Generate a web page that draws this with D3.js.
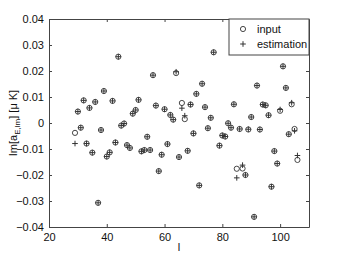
<!DOCTYPE html>
<html>
<head>
<meta charset="utf-8">
<script src="https://cdn.jsdelivr.net/npm/d3@7"></script>
<style>
  body { margin: 0; background: #fff; }
  svg { display: block; font-family: "Liberation Sans", Arial, sans-serif; }
</style>
</head>
<body>
<svg id="chart"></svg>
<script>
// multipole l for each point
const ells = [29, 30, 31, 32, 33, 34, 35, 36, 37, 38, 39, 40, 41, 42, 43, 44, 45, 46, 47, 48,
  49, 50, 51, 52, 53, 54, 55, 56, 57, 58, 59, 60, 61, 62, 63, 64, 65, 66, 67, 68,
  69, 70, 71, 72, 73, 74, 75, 76, 77, 79, 80, 81, 82, 83, 84, 85, 86, 87, 88, 89,
  90, 91, 92, 93, 94, 95, 96, 97, 98, 99, 100, 101, 102, 103, 104, 105, 106]

// Im[a_E,lm] input values (circles)
const inputVals = [-0.0038, 0.0044, -0.0018, 0.0087, -0.0079, 0.0058, -0.0114, 0.0081, -0.0307, -0.0027,
  0.0123, -0.0129, -0.0113, 0.0085, -0.0075, 0.0255, -0.0010, -0.0002, -0.0085, -0.0096,
  0.0036, 0.0050, 0.0089, -0.0109, -0.0104, -0.0053, -0.0104, 0.0184, 0.0067, -0.0185,
  -0.0122, 0.0053, -0.0081, 0.0031, 0.0013, 0.0192, -0.0131, 0.0077, 0.0015, -0.0107,
  0.0071, -0.0040, 0.0112, -0.0240, 0.0151, 0.0061, -0.0020, 0.0020, 0.0272, -0.0087,
  -0.0048, -0.0052, -0.0001, -0.0018, 0.0072, -0.0176, -0.0023, -0.0175, -0.0200, -0.0025,
  0.0023, -0.0361, 0.0144, -0.0025, 0.0071, 0.0068, 0.0030, -0.0245, -0.0108, -0.0156,
  0.0047, 0.0218, 0.0135, -0.0043, 0.0072, -0.0023, -0.0142]

// estimated values (plus signs)
const estimVals = [-0.0079, 0.0044, -0.0018, 0.0087, -0.0079, 0.0058, -0.0114, 0.0081, -0.0307, -0.0027,
  0.0123, -0.0129, -0.0113, 0.0085, -0.0075, 0.0255, -0.0010, -0.0002, -0.0085, -0.0096,
  0.0036, 0.0050, 0.0089, -0.0109, -0.0104, -0.0053, -0.0104, 0.0184, 0.0067, -0.0185,
  -0.0122, 0.0053, -0.0081, 0.0031, 0.0013, 0.0197, -0.0131, 0.0057, 0.0028, -0.0107,
  0.0071, -0.0040, 0.0112, -0.0240, 0.0151, 0.0061, -0.0020, 0.0020, 0.0272, -0.0087,
  -0.0048, -0.0052, -0.0001, -0.0018, 0.0072, -0.0211, -0.0023, -0.0162, -0.0200, -0.0024,
  0.0023, -0.0361, 0.0144, -0.0025, 0.0071, 0.0068, 0.0030, -0.0245, -0.0108, -0.0156,
  0.0052, 0.0218, 0.0135, -0.0043, 0.0078, -0.0030, -0.0125]

const xTicks = [20, 40, 60, 80, 100]
const yTicks = [-0.04, -0.03, -0.02, -0.01, 0, 0.01, 0.02, 0.03, 0.04]
const legendNames = ["input", "estimation"]

// layout
var margin = {top: 19, right: 32, bottom: 29, left: 49}
var width = 341 - margin.left - margin.right
var height = 256 - margin.top - margin.bottom
var axisColor = "#444"
var markColor = "#333"
var textColor = "#111"

var svg = d3.select("#chart")
    .attr("width", 341)
    .attr("height", 256)

var g = svg.append("g")
    .attr("transform", `translate(${margin.left},${margin.top})`)

var x = d3.scaleLinear().domain([20, 110]).range([0, width])
var y = d3.scaleLinear().domain([-0.04, 0.04]).range([height, 0])

var fmtY = d => d === 0 ? "0" : d3.format(".2f")(d).replace("-", "\u2212")

// axes, ticks pointing inward on all four sides
g.append("g")
    .attr("transform", `translate(0,${height})`)
    .call(d3.axisBottom(x).tickValues(xTicks).tickSize(-3).tickPadding(6).tickSizeOuter(0))
g.append("g")
    .call(d3.axisTop(x).tickValues(xTicks).tickSize(-3).tickFormat("").tickSizeOuter(0))
g.append("g")
    .call(d3.axisLeft(y).tickValues(yTicks).tickSize(-3).tickPadding(5).tickFormat(fmtY).tickSizeOuter(0))
g.append("g")
    .attr("transform", `translate(${width},0)`)
    .call(d3.axisRight(y).tickValues(yTicks).tickSize(-3).tickFormat("").tickSizeOuter(0))

g.selectAll(".domain, .tick line").attr("stroke", axisColor)
g.selectAll(".tick text").attr("font-size", 11).attr("fill", textColor)
    .attr("font-family", "'Liberation Sans', Arial, sans-serif")

// points
var pts = ells.map((l, i) => ({l: l, inp: inputVals[i], est: estimVals[i]}))

g.append("g").selectAll("circle")
    .data(pts)
    .join("circle")
    .attr("cx", d => x(d.l))
    .attr("cy", d => y(d.inp))
    .attr("r", 2.6)
    .attr("fill", "none")
    .attr("stroke", markColor)
    .attr("stroke-width", 0.9)

var plus = "M-2.8,0H2.8M0,-2.8V2.8"
g.append("g").selectAll("path")
    .data(pts)
    .join("path")
    .attr("d", plus)
    .attr("transform", d => `translate(${x(d.l)},${y(d.est)})`)
    .attr("stroke", markColor)
    .attr("stroke-width", 1)

// legend, top right corner
var lw = 80, lh = 36
var legend = g.append("g").attr("transform", `translate(${width - lw},0)`)
legend.append("rect")
    .attr("width", lw).attr("height", lh)
    .attr("fill", "#fff").attr("stroke", axisColor)
legend.append("circle")
    .attr("cx", 14).attr("cy", 10).attr("r", 2.6)
    .attr("fill", "none").attr("stroke", markColor).attr("stroke-width", 0.9)
legend.append("path")
    .attr("d", plus).attr("transform", "translate(14,25)")
    .attr("stroke", markColor)
legend.selectAll("text")
    .data(legendNames)
    .join("text")
    .attr("x", 28)
    .attr("y", (d, i) => 14 + i * 15)
    .attr("font-size", 11)
    .attr("fill", textColor)
    .text(d => d)

// axis labels
svg.append("text")
    .attr("x", margin.left + width / 2)
    .attr("y", 251)
    .attr("text-anchor", "middle")
    .attr("font-size", 11)
    .attr("fill", textColor)
    .text("l")

var yl = svg.append("text")
    .attr("transform", `translate(17,${margin.top + height / 2}) rotate(-90)`)
    .attr("text-anchor", "middle")
    .attr("font-size", 11)
    .attr("fill", textColor)
yl.append("tspan").text("Im[a")
yl.append("tspan").attr("font-size", 8).attr("dy", 3).text("E,lm")
yl.append("tspan").attr("dy", -3).text("] [\u03bc K]")
</script>
</body>
</html>
